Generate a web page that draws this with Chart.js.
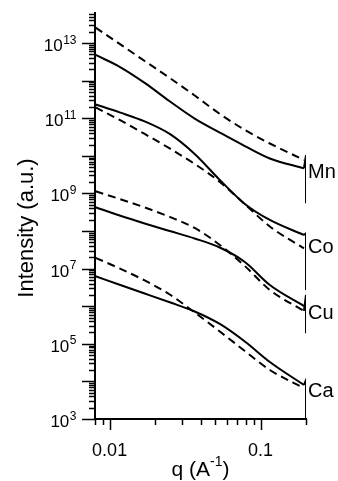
<!DOCTYPE html>
<html><head><meta charset="utf-8">
<script src="https://cdn.jsdelivr.net/npm/chart.js@4.4.1/dist/chart.umd.min.js"></script>
<style>html,body{margin:0;padding:0;background:#fff}#c{display:block}</style>
</head><body>
<canvas id="c" width="338" height="481"></canvas>
<script>
// ---- data ----
const samples = ['Mn', 'Co', 'Cu', 'Ca'];
const labelAnchors = [3.8e9, 3.9e7, 7.0e5, 5.9e3];

const q = [0.00807, 0.01165, 0.01707, 0.0250, 0.0366, 0.0537, 0.0787, 0.1152, 0.1938];

const mnSolid = [4.82e12, 2.34e12, 8.74e11, 2.83e11, 9.82e10, 4.16e10, 1.82e10, 8.51e9, 4.64e9];
const mnDash  = [2.58e13, 9.47e12, 3.34e12, 1.18e12, 4.03e11, 1.30e11, 4.88e10, 2.13e10, 7.76e9];
const coSolid = [2.33e11, 1.43e11, 8.22e10, 3.82e10, 1.12e10, 2.28e9, 5.25e8, 1.97e8, 7.85e7];
const coDash  = [1.94e11, 9.00e10, 3.82e10, 1.57e10, 6.08e9, 2.02e9, 5.15e8, 1.32e8, 3.44e7];
const cuSolid = [4.29e8, 2.59e8, 1.59e8, 1.00e8, 6.34e7, 3.65e7, 1.50e7, 3.67e6, 1.01e6];
const cuDash  = [1.14e9, 7.13e8, 4.24e8, 2.37e8, 1.21e8, 4.26e7, 1.17e7, 2.70e6, 7.47e5];
const caSolid = [6.25e6, 3.72e6, 2.18e6, 1.27e6, 7.25e5, 3.37e5, 1.15e5, 3.28e4, 8.04e3];
const caDash  = [1.94e7, 1.01e7, 4.84e6, 2.05e6, 6.81e5, 2.13e5, 6.44e4, 2.01e4, 6.68e3];

// noisy high-q ends of the measured curves
const endQ  = [0.1938, 0.2, 0.2];
const mnEnd = [4.64e9, 1.05e10, 5.5e8];
const coEnd = [7.85e7, 8.7e7, 2.7e6];
const cuEnd = [7.47e5, 2.0e6, 1.9e5];
const caEnd = [8.04e3, 1.09e4, 1.0e3];

const yLabelExponents = [3, 5, 7, 9, 11, 13];
const xLabelValues = [0.01, 0.1];
const xLabelTexts = ['0.01', '0.1'];

// ---- build ----
const pts = (qq, v) => qq.map((x, i) => ({x: x, y: v[i]}));
const FONT = '"Liberation Sans", Arial, sans-serif';
function solid(v) { return {data: pts(q, v), borderColor: '#000', borderWidth: 2, cubicInterpolationMode: 'monotone', pointRadius: 0, showLine: true}; }
function dashed(v) { return {data: pts(q, v), borderColor: '#000', borderWidth: 2, borderDash: [8, 5], cubicInterpolationMode: 'monotone', pointRadius: 0, showLine: true}; }
function endLine(v) { return {data: pts(endQ, v), borderColor: '#000', borderWidth: 2, tension: 0, pointRadius: 0, showLine: true}; }

const datasets = [
  solid(mnSolid), dashed(mnDash), endLine(mnEnd),
  solid(coSolid), dashed(coDash), endLine(coEnd),
  solid(cuSolid), dashed(cuDash), endLine(cuEnd),
  solid(caSolid), dashed(caDash), endLine(caEnd)
];

const deco = {
  id: 'deco',
  afterDraw(chart) {
    const ctx = chart.ctx, xs = chart.scales.x, ys = chart.scales.y;
    const left = chart.chartArea.left, bottom = chart.chartArea.bottom;
    ctx.save();
    ctx.strokeStyle = '#000';
    ctx.fillStyle = '#000';
    ctx.lineWidth = 1.5;
    // y ticks
    for (let e = 3; e <= 13; e++) {
      for (let m = 1; m <= 9; m++) {
        const v = m * Math.pow(10, e);
        if (v > ys.max) break;
        const py = Math.round(ys.getPixelForValue(v)) + 0.5;
        const len = m === 1 ? 13 : 6;
        ctx.beginPath(); ctx.moveTo(left - len, py); ctx.lineTo(left, py); ctx.stroke();
      }
    }
    // x ticks
    for (let e = -3; e <= -1; e++) {
      for (let m = 1; m <= 9; m++) {
        const v = m * Math.pow(10, e);
        if (v < xs.min * 0.999 || v > xs.max * 1.001) continue;
        const px = Math.round(xs.getPixelForValue(v)) + 0.5;
        const len = m === 1 ? 11 : 6;
        ctx.beginPath(); ctx.moveTo(px, bottom); ctx.lineTo(px, bottom + len); ctx.stroke();
      }
    }
    // y labels
    ctx.textBaseline = 'alphabetic';
    const BASE = '17px ' + FONT, EXP = '12px ' + FONT;
    yLabelExponents.forEach(e => {
      const py = ys.getPixelForValue(Math.pow(10, e));
      ctx.font = BASE;
      const wb = ctx.measureText('10').width;
      ctx.font = EXP;
      const we = ctx.measureText(String(e)).width;
      const x0 = 76 - wb - we;
      ctx.font = BASE;
      ctx.textAlign = 'left';
      ctx.fillText('10', x0, py + 8);
      ctx.font = EXP;
      ctx.fillText(String(e), x0 + wb + 0.5, py + 0.5);
    });
    // x labels
    ctx.font = '18px ' + FONT;
    ctx.textAlign = 'center';
    xLabelValues.forEach((v, i) => {
      ctx.fillText(xLabelTexts[i], xs.getPixelForValue(v), 456);
    });
    // x title: q (A^-1)
    const TF = '21px ' + FONT, TS = '14px ' + FONT;
    const t1 = 'q (A', t3 = ')';
    ctx.font = TS;
    const w2 = ctx.measureText('-1').width;
    ctx.font = TF;
    const w1 = ctx.measureText(t1).width, w3 = ctx.measureText(t3).width;
    const tx = (chart.chartArea.left + chart.chartArea.right) / 2 - (w1 + w2 + w3) / 2;
    ctx.textAlign = 'left';
    ctx.fillText(t1, tx, 476);
    ctx.font = TS;
    ctx.fillText('-1', tx + w1, 466);
    ctx.font = TF;
    ctx.fillText(t3, tx + w1 + w2, 476);
    // y title
    ctx.save();
    ctx.translate(33, 228);
    ctx.rotate(-Math.PI / 2);
    ctx.textAlign = 'center';
    ctx.font = '22px ' + FONT;
    ctx.fillText('Intensity (a.u.)', 0, 0);
    ctx.restore();
    // sample labels
    ctx.font = '20px ' + FONT;
    ctx.textAlign = 'left';
    ctx.textBaseline = 'middle';
    samples.forEach((s, i) => {
      ctx.fillText(s, chart.chartArea.right + 2, ys.getPixelForValue(labelAnchors[i]) + 1);
    });
    ctx.restore();
  }
};

new Chart(document.getElementById('c'), {
  type: 'scatter',
  data: {datasets: datasets},
  options: {
    responsive: false,
    animation: false,
    devicePixelRatio: 1,
    layout: {padding: {top: 13, right: 32, left: 0, bottom: 0}},
    plugins: {legend: {display: false}, tooltip: {enabled: false}},
    elements: {point: {radius: 0}},
    scales: {
      x: {
        type: 'logarithmic', min: 0.008, max: 0.2,
        ticks: {display: false}, grid: {display: false, drawTicks: false},
        border: {display: true, color: '#000', width: 2},
        afterFit: s => { s.height = 62; }
      },
      y: {
        type: 'logarithmic', min: 1e3, max: 6.3e13,
        ticks: {display: false}, grid: {display: false, drawTicks: false},
        border: {display: true, color: '#000', width: 2},
        afterFit: s => { s.width = 95; }
      }
    }
  },
  plugins: [deco]
});
</script>
</body></html>
